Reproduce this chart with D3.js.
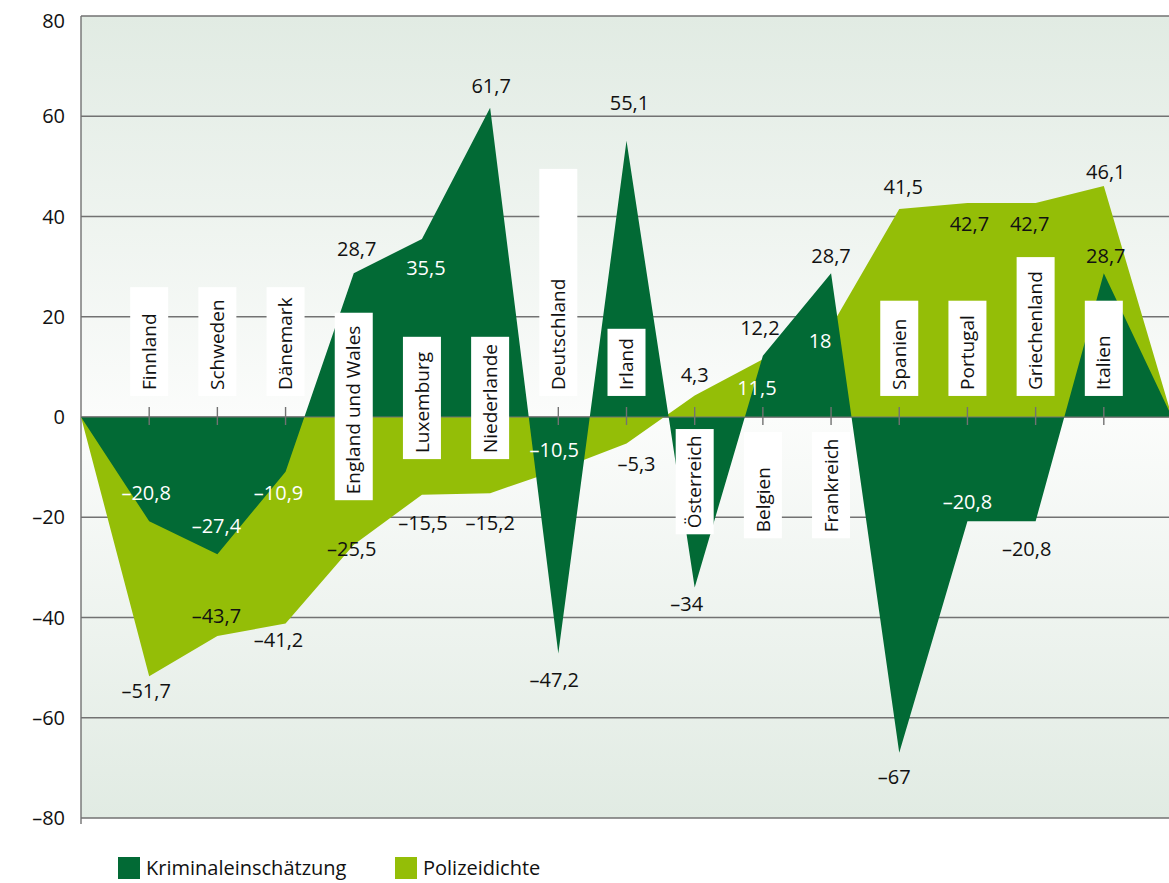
<!DOCTYPE html>
<html>
<head>
<meta charset="utf-8">
<script src="https://cdn.jsdelivr.net/npm/d3@7"></script>
<style>
  body { margin: 0; background: #fff; }
  svg { display: block; font-family: "Open Sans", "Noto Sans", sans-serif; }
</style>
</head>
<body>
<svg id="chart"></svg>
<script>
// Daten
var categories = ["Finnland", "Schweden", "Dänemark", "England und Wales", "Luxemburg", "Niederlande",
    "Deutschland", "Irland", "Österreich", "Belgien", "Frankreich", "Spanien", "Portugal",
    "Griechenland", "Italien"];
var kriminal = [-20.8, -27.4, -10.9, 28.7, 35.5, 61.7, -47.2, 55.1, -34, 12.2, 28.7, -67, -20.8, -20.8, 28.7];
var polizei = [-51.7, -43.7, -41.2, -25.5, -15.5, -15.2, -10.5, -5.3, 4.3, 11.5, 18, 41.5, 42.7, 42.7, 46.1];
var yTicks = [-80, -60, -40, -20, 0, 20, 40, 60, 80];
var seriesNames = ["Kriminaleinschätzung", "Polizeidichte"];

// Layout der Beschriftungen (getrennt von den Daten)
var boxTop = [25.9, 25.9, 25.9, 20.8, 16, 16, 49.5, 17.6, -2.4, -3, -3, 23.2, 23.2, 31.9, 23.2];
var boxBottom = [4.2, 4.2, 4.2, -16.6, -8.4, -8.4, 4.2, 4.2, -23.4, -24.2, -24.2, 4.2, 4.2, 4.2, 4.2];
var kriminalDx = [-3, -1, -7, 3, 4, 1, -4, 3, -8, -3, 0, -5, 0, -9, 2];
var kriminalDy = [-28, -28, 21, -24, 29, -22, 26, -38, 17, -28, -17, 24, -19, 28, -17];
var kriminalWhite = [1, 1, 1, 0, 1, 0, 0, 0, 0, 0, 0, 0, 1, 0, 0];
var polizeiDx = [-3, -1, -7, -2, 1, 0, -4, 10, 0, -6, -11, 4, 2, -6, 2];
var polizeiDy = [15, -20, 16, 4, 28, 30, -20, 20, -20, 29, 14, -22, 21, 21, -14];
var polizeiWhite = [0, 0, 0, 0, 0, 0, 1, 0, 0, 1, 1, 0, 0, 0, 0];

var width = 1169, height = 883;
var dunkel = "#026a35", hell = "#94be07", gitter = "#727272";

var svg = d3.select("#chart")
    .attr("width", width)
    .attr("height", height);

var x = d3.scaleLinear().domain([0, categories.length + 1]).range([81, 1172]);
var y = d3.scaleLinear().domain([-80, 80]).range([818, 16]);

// Hintergrund mit Verlauf
var defs = svg.append("defs");
var grad = defs.append("linearGradient")
    .attr("id", "bg")
    .attr("x1", 0).attr("y1", 0).attr("x2", 0).attr("y2", 1);
grad.append("stop").attr("offset", "0%").attr("stop-color", "#e1ebe3");
grad.append("stop").attr("offset", "50%").attr("stop-color", "#fbfcfb");
grad.append("stop").attr("offset", "100%").attr("stop-color", "#e1ebe3");

svg.append("rect")
    .attr("x", x(0))
    .attr("y", y(80))
    .attr("width", width - x(0))
    .attr("height", y(-80) - y(80))
    .attr("fill", "url(#bg)");

// Gitterlinien
svg.append("g")
    .selectAll("line")
    .data(yTicks)
    .enter().append("line")
    .attr("x1", x(0))
    .attr("x2", width)
    .attr("y1", function (d) { return y(d); })
    .attr("y2", function (d) { return y(d); })
    .attr("stroke", gitter)
    .attr("stroke-width", 1.4);

// y-Achse
svg.append("line")
    .attr("x1", x(0)).attr("x2", x(0))
    .attr("y1", y(80)).attr("y2", y(-80) + 6)
    .attr("stroke", gitter)
    .attr("stroke-width", 1.4);

svg.append("g")
    .selectAll("text")
    .data(yTicks)
    .enter().append("text")
    .attr("x", 65)
    .attr("y", function (d) { return y(d); })
    .attr("dy", function (d) { return d === 80 ? "0.6em" : "0.35em"; })
    .attr("text-anchor", "end")
    .attr("font-size", 20)
    .attr("fill", "#111")
    .text(function (d) { return fmt(d); });

function fmt(v) {
    return String(v).replace(".", ",").replace("-", "\u2013");
}

// Flächen: Start und Ende auf der Nulllinie
function punkte(werte) {
    var p = [[0, 0]];
    werte.forEach(function (v, i) { p.push([i + 1, v]); });
    p.push([categories.length + 1, 0]);
    return p;
}

var area = d3.area()
    .x(function (d) { return x(d[0]); })
    .y0(y(0))
    .y1(function (d) { return y(d[1]); });

svg.append("path")
    .datum(punkte(polizei))
    .attr("d", area)
    .attr("fill", hell);

svg.append("path")
    .datum(punkte(kriminal))
    .attr("d", area)
    .attr("fill", dunkel);

// Nulllinie und Striche
svg.append("line")
    .attr("x1", x(0)).attr("x2", width)
    .attr("y1", y(0)).attr("y2", y(0))
    .attr("stroke", gitter)
    .attr("stroke-width", 1.2);

svg.append("g")
    .selectAll("line")
    .data(categories)
    .enter().append("line")
    .attr("x1", function (d, i) { return x(i + 1); })
    .attr("x2", function (d, i) { return x(i + 1); })
    .attr("y1", y(0) - 10)
    .attr("y2", y(0) + 8)
    .attr("stroke", gitter)
    .attr("stroke-width", 1.4);

// Länderbeschriftung in weißen Kästen
var kat = svg.append("g")
    .selectAll("g")
    .data(categories)
    .enter().append("g");

kat.append("rect")
    .attr("x", function (d, i) { return x(i + 1) - 19; })
    .attr("y", function (d, i) { return y(boxTop[i]); })
    .attr("width", 38)
    .attr("height", function (d, i) { return y(boxBottom[i]) - y(boxTop[i]); })
    .attr("fill", "#fff");

kat.append("text")
    .attr("transform", function (d, i) {
        return "translate(" + x(i + 1) + "," + (y(boxBottom[i]) - 6) + ") rotate(-90)";
    })
    .attr("dy", "0.35em")
    .attr("font-size", 19)
    .attr("fill", "#111")
    .text(function (d) { return d; });

// Wertebeschriftung
function werteLabels(werte, dx, dy, weiss) {
    svg.append("g")
        .selectAll("text")
        .data(werte)
        .enter().append("text")
        .attr("x", function (d, i) { return x(i + 1) + dx[i]; })
        .attr("y", function (d, i) { return y(d) + dy[i]; })
        .attr("dy", "0.35em")
        .attr("text-anchor", "middle")
        .attr("font-size", 20)
        .attr("fill", function (d, i) { return weiss[i] ? "#fff" : "#111"; })
        .text(function (d) { return fmt(d); });
}

werteLabels(kriminal, kriminalDx, kriminalDy, kriminalWhite);
werteLabels(polizei, polizeiDx, polizeiDy, polizeiWhite);

// Legende
var legende = svg.append("g")
    .selectAll("g")
    .data(seriesNames)
    .enter().append("g")
    .attr("transform", function (d, i) { return "translate(" + (118 + i * 277) + ",857)"; });

legende.append("rect")
    .attr("width", 22)
    .attr("height", 22)
    .attr("fill", function (d, i) { return i === 0 ? dunkel : hell; });

legende.append("text")
    .attr("x", 28)
    .attr("y", 18)
    .attr("font-size", 20)
    .attr("fill", "#111")
    .text(function (d) { return d; });
</script>
</body>
</html>
